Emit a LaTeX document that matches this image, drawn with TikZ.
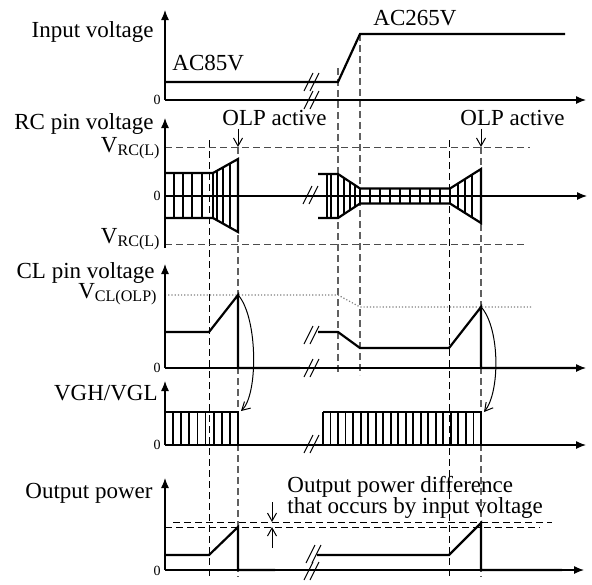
\documentclass[tikz,border=0pt]{standalone}
\usepackage{fontspec}
\setmainfont{Liberation Serif}
\usetikzlibrary{arrows.meta}

\begin{document}
\begin{tikzpicture}[
        x=0.5pt, y=-0.5pt,
        font=\fontsize{11.5}{13}\selectfont,
        axis/.style={line width=0.6pt, -{Latex[length=5pt,width=4pt]}},
        sig/.style={line width=1.1pt, line join=miter},
        bar/.style={line width=0.9pt},
        guide/.style={dash pattern=on 3.5pt off 2pt, line width=0.45pt},
        cue/.style={guide, gray!75!black, line width=0.6pt},
        level/.style={densely dotted, gray, line width=0.6pt},
        brk/.style={line width=0.5pt},
        tag/.style={anchor=base west, inner sep=0pt},
        ylab/.style={anchor=base east, inner sep=0pt},
        zero/.style={anchor=east, inner sep=1pt, font=\fontsize{7}{7}\selectfont},
        olp/.style={line width=0.5pt, -{Straight Barb[length=4pt,width=4.5pt]}}
    ]
        \useasboundingbox (0,0) rectangle (592,584);

        % guide lines
        \draw[guide] (209,140) -- (209,577);
        \draw[cue] (238,147) -- (238,577);
        \draw[cue] (338,68) -- (338,375);
        \draw[cue] (360,34) -- (360,375);
        \draw[guide] (449,140) -- (449,577);
        \draw[cue] (481,147) -- (481,577);
        \draw[guide, gray!60!black] (165,147) -- (530,147);
        \draw[guide, gray!60!black] (165,244) -- (527,244);
        \draw[level] (165,295) -- (338,295) -- (360,307) -- (531,307);
        \draw[guide] (173,522) -- (552,522);
        \draw[guide] (165,527) -- (540,527);

        % axes
        \foreach \bot/\zy/\top/\xend in {100/100/10/586, 248/196/118/587, 368/368/264/586, 445/445/381/586, 570/570/478/584} {
            \draw[axis] (165,\bot) -- (165,\top);
            \draw[axis] (165,\zy) -- (\xend,\zy);
        }

        % input voltage
        \draw[sig] (165,82) -- (338,82) -- (360,34) -- (565,34);

        % RC pin voltage
        \draw[sig] (165,173) -- (213,173) -- (238,159) -- (238,232) -- (213,218) -- (165,218);
        \foreach \bx in {165,174,183,192,202,213}
            \draw[bar] (\bx,173) -- (\bx,218);
        \foreach \bx in {217,223,230}
            \draw[bar] (\bx,{173-(\bx-213)*0.56}) -- (\bx,{218+(\bx-213)*0.56});
        \draw[sig] (238,196) -- (318,196);
        \draw[sig] (318,174) -- (338,174) -- (360,188.5) -- (450,188.5) -- (481,169) -- (481,223) -- (450,203.5) -- (360,203.5) -- (338,218) -- (318,218);
        \foreach \bx in {327,331,338}
            \draw[bar] (\bx,174) -- (\bx,218);
        \foreach \bx in {344,350,355}
            \draw[bar] (\bx,{174+(\bx-338)*0.66}) -- (\bx,{218-(\bx-338)*0.66});
        \foreach \bx in {360,370,...,450}
            \draw[bar] (\bx,188.5) -- (\bx,203.5);
        \foreach \bx in {458,465,472}
            \draw[bar] (\bx,{188.5-(\bx-450)*0.63}) -- (\bx,{203.5+(\bx-450)*0.63});
        \draw[sig] (481,196) -- (576,196);

        % CL pin voltage
        \draw[sig] (165,332) -- (209,332) -- (238,295) -- (238,368) -- (300,368);
        \draw[sig] (318,332) -- (338,332) -- (360,348) -- (449,348) -- (481,307) -- (481,368) -- (576,368);

        % VGH/VGL
        \draw[sig] (165,412) -- (238,412) -- (238,445) -- (300,445);
        \foreach \i in {0,...,8}
            \draw[bar] ({165+\i*8.1},412) -- ++(0,33);
        \draw[sig] (323,412) -- (481,412) -- (481,445) -- (576,445);
        \foreach \i in {0,...,20}
            \draw[bar] ({323+\i*7.52},412) -- ++(0,33);

        % output power
        \draw[sig] (165,555) -- (209,555) -- (238,527) -- (238,570) -- (275,570);
        \draw[sig] (317,555) -- (449,555) -- (481,523) -- (481,570) -- (562,570);

        % breaks
        \foreach \cx/\cy in {312/82, 312/100, 311/195, 312/335, 312/368, 312/444, 314/554, 312/571}
            \draw[brk] (\cx-8,\cy+9) -- (\cx+1,\cy-9) (\cx-2,\cy+9) -- (\cx+7,\cy-9);

        % labels
        \node[ylab] (inV) at (154,37) {Input voltage};
        \node[ylab] (rcV) at (154,129) {RC pin voltage};
        \node[ylab] (clV) at (155,278) {CL pin voltage};
        \node[ylab] (vgh) at (158,400) {VGH/VGL};
        \node[ylab] (outP) at (153,498) {Output power};
        \node[ylab] (vrcH) at (161,152) {V\textsubscript{RC(L)}};
        \node[ylab] (vrcL) at (161,243) {V\textsubscript{RC(L)}};
        \node[ylab] (vcl) at (158,298) {V\textsubscript{CL(OLP)}};
        \node[zero] (z1) at (163,100) {0};
        \node[zero] (z2) at (163,196) {0};
        \node[zero] (z3) at (163,368) {0};
        \node[zero] (z4) at (163,445) {0};
        \node[zero] (z5) at (163,571) {0};
        \node[tag] (ac85) at (172,70) {AC85V};
        \node[tag] (ac265) at (373,25) {AC265V};
        \node[tag] (olp1) at (222,125) {OLP active};
        \node[tag] (olp2) at (460,125) {OLP active};
        \node[tag, align=left, font=\fontsize{11.5}{10.5}\selectfont] (diff) at (287,513) {Output power difference\\that occurs by input voltage};

        % arrows
        \coordinate (p1) at (238,147);
        \coordinate (p2) at (481,147);
        \draw[olp] ([yshift=-1.5pt]olp1.south -| p1) -- (p1);
        \draw[olp] ([yshift=-1.5pt]olp2.south -| p2) -- (p2);
        \coordinate (pk1) at (239,296);
        \coordinate (vg1) at (241,411);
        \coordinate (pk2) at (482,308);
        \coordinate (vg2) at (484,412);
        \draw[olp] (pk1) .. controls (258,320) and (258,395) .. (vg1);
        \draw[olp] (pk2) .. controls (500,330) and (500,392) .. (vg2);
        \coordinate (dtop) at (272,522);
        \coordinate (dbot) at (272,527);
        \draw[olp] (272,502) -- (dtop);
        \draw[olp] (272,548) -- (dbot);
    \end{tikzpicture}
\end{document}
